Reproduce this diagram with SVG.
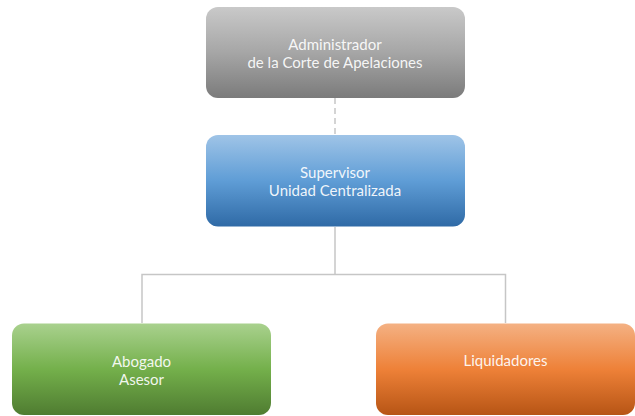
<svg xmlns="http://www.w3.org/2000/svg" width="635" height="416" viewBox="0 0 635 416">
<defs>
<linearGradient id="gGray" x1="0" y1="0" x2="0" y2="1">
<stop offset="0" stop-color="#c9c9c9"/><stop offset="0.5" stop-color="#a6a6a6"/><stop offset="1" stop-color="#7b7b7b"/>
</linearGradient>
<linearGradient id="gBlue" x1="0" y1="0" x2="0" y2="1">
<stop offset="0" stop-color="#9fc4e7"/><stop offset="0.5" stop-color="#5f9dd6"/><stop offset="1" stop-color="#2f6aa6"/>
</linearGradient>
<linearGradient id="gGreen" x1="0" y1="0" x2="0" y2="1">
<stop offset="0" stop-color="#a9d18e"/><stop offset="0.5" stop-color="#74b04b"/><stop offset="1" stop-color="#4f7c31"/>
</linearGradient>
<linearGradient id="gOrange" x1="0" y1="0" x2="0" y2="1">
<stop offset="0" stop-color="#f4b183"/><stop offset="0.5" stop-color="#ee8138"/><stop offset="1" stop-color="#b75515"/>
</linearGradient>
</defs>
<style>
.lbl{font-family:Lato,"Liberation Sans",Arial,sans-serif;font-size:15px;fill:#ffffff;fill-opacity:0.92;text-anchor:middle}
.conn{fill:none;stroke:#c6c6c6;stroke-width:1.5}
.dash{stroke-dasharray:6 4}
</style>
<g id="connectors">
<line class="conn dash" x1="335" y1="98" x2="335" y2="135"/>
<path class="conn" d="M335 227 V274.5 M142 323 V274.5 H505.5 V323"/>
</g>
<g id="node-admin">
<rect x="206" y="7" width="259" height="91" rx="12" fill="url(#gGray)"/>
<text class="lbl" x="335" y="50">Administrador</text>
<text class="lbl" x="335" y="68">de la Corte de Apelaciones</text>
</g>
<g id="node-supervisor">
<rect x="206" y="135" width="259" height="91.5" rx="12" fill="url(#gBlue)"/>
<text class="lbl" x="335" y="178">Supervisor</text>
<text class="lbl" x="335" y="196">Unidad Centralizada</text>
</g>
<g id="node-abogado">
<rect x="12" y="323.5" width="259" height="91.5" rx="12" fill="url(#gGreen)"/>
<text class="lbl" x="141.5" y="367">Abogado</text>
<text class="lbl" x="141.5" y="385">Asesor</text>
</g>
<g id="node-liquidadores">
<rect x="376" y="323.5" width="259" height="91.5" rx="12" fill="url(#gOrange)"/>
<text class="lbl" x="505.5" y="366">Liquidadores</text>
</g>
</svg>
